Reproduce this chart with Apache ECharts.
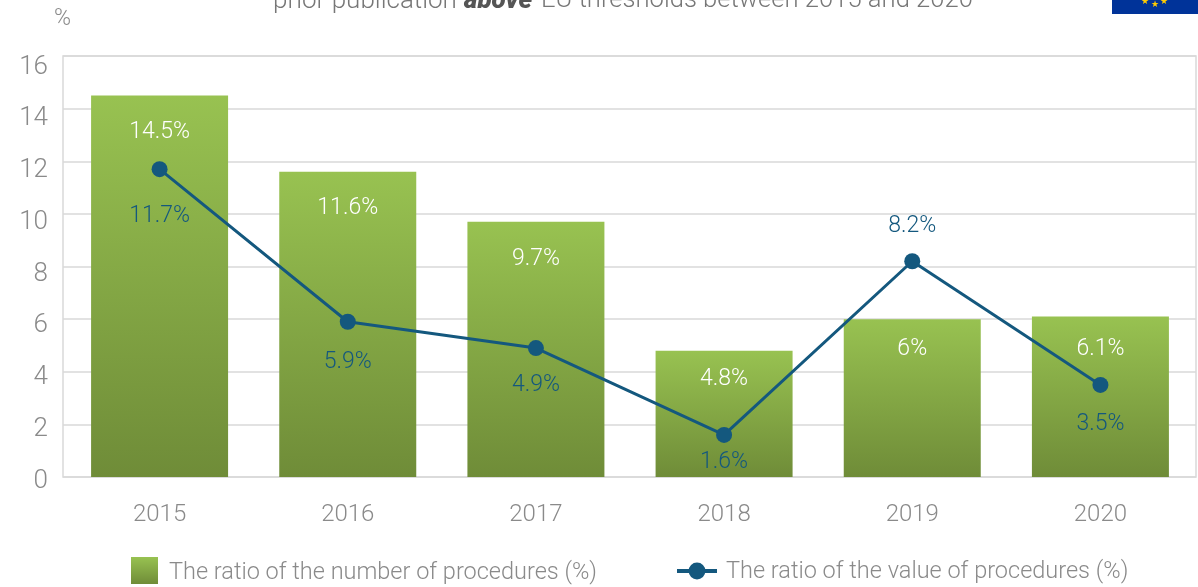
<!DOCTYPE html>
<html><head><meta charset="utf-8">
<style>html,body{margin:0;padding:0;background:#fff;overflow:hidden}#c{width:1198px;height:587px}</style>
<script src="https://cdn.jsdelivr.net/npm/echarts@6/dist/echarts.min.js"></script>
</head><body><div id="c"></div>
<script>
const categories = ['2015','2016','2017','2018','2019','2020'];
const numberRatio = [14.5,11.6,9.7,4.8,6,6.1];
const valueRatio = [11.7,5.9,4.9,1.6,8.2,3.5];
const barName = 'The ratio of the number of procedures (%)';
const lineName = 'The ratio of the value of procedures (%)';
const barLabelDistance = [25,25,26,17,19,21];
const lineLabelPlacement = ['bottom','bottom','bottom','bottom','top','bottom'];
const lineLabelDistance = [28,21,18,8,15,20];

const FONT = 'Roboto';
const GREY = '#8a8a8a';
const BLUE = '#14587e';
const grad = new echarts.graphic.LinearGradient(0,0,0,1,[{offset:0,color:'#98c251'},{offset:1,color:'#6f8c38'}]);
const chart = echarts.init(document.getElementById('c'),null,{renderer:'canvas'});
const legendText = pad => ({rich:{t:{color:GREY,fontFamily:FONT,fontSize:23.5,fontWeight:300,padding:[pad,0,0,0]}}});
chart.setOption({
  animation:false,
  backgroundColor:'#fff',
  grid:[
    {left:63,top:56,width:1133,height:421,show:true,borderColor:'#d9d9d9',borderWidth:1.5,backgroundColor:'transparent'},
    {left:65.5,top:56,width:1129,height:421},
    {left:63,top:67,width:1133,height:414}
  ],
  xAxis:[
    {gridIndex:0,type:'value',min:0,max:1,show:false},
    {gridIndex:1,type:'category',data:categories,axisLine:{show:false},axisTick:{show:false},
     axisLabel:{color:GREY,fontFamily:FONT,fontSize:24,fontWeight:300,margin:26}},
    {gridIndex:2,type:'value',min:0,max:1,show:false}
  ],
  yAxis:[
    {gridIndex:0,type:'value',min:0,max:16,interval:2,axisLine:{show:false},axisTick:{show:false},axisLabel:{show:false},
     splitLine:{show:true,lineStyle:{color:'#d9d9d9',width:1.5}}},
    {gridIndex:1,type:'value',min:0,max:16,interval:2,show:false,splitLine:{show:false}},
    {gridIndex:2,type:'value',min:0,max:16,interval:2,axisLine:{show:false},axisTick:{show:false},splitLine:{show:false},
     axisLabel:{color:GREY,fontFamily:FONT,fontSize:26,fontWeight:300,margin:15}}
  ],
  legend:[
    {data:[{name:barName,icon:'rect'}],left:126,top:552,itemWidth:27,itemHeight:27,itemGap:0,
     formatter:n=>'{t|'+n+'}',textStyle:{padding:[0,0,0,6],...legendText(6)}},
    {data:[{name:lineName}],left:670,top:555,itemWidth:40,itemHeight:21,itemGap:0,lineStyle:{width:4},
     formatter:n=>'{t|'+n+'}',textStyle:{padding:[0,0,0,4],...legendText(2)}}
  ],
  series:[
    {name:barName,type:'bar',xAxisIndex:1,yAxisIndex:1,barWidth:137,
     itemStyle:{color:grad},
     data:numberRatio.map((v,i)=>({value:v,label:{distance:barLabelDistance[i]}})),
     label:{show:true,position:'insideTop',color:'#fff',fontFamily:FONT,fontSize:23,fontWeight:300,formatter:p=>p.value+'%'}},
    {name:lineName,type:'line',xAxisIndex:1,yAxisIndex:1,symbol:'circle',symbolSize:16,
     lineStyle:{color:BLUE,width:3},itemStyle:{color:BLUE},
     data:valueRatio.map((v,i)=>({value:v,label:{position:lineLabelPlacement[i],distance:lineLabelDistance[i]}})),
     label:{show:true,color:BLUE,fontFamily:FONT,fontSize:23,fontWeight:300,formatter:p=>p.value+'%'}}
  ],
  graphic:[
    {type:'text',x:273,y:-12,style:{text:'prior publication',fill:'#777',font:'300 26px Roboto'}},
    {type:'text',x:464,y:-12,style:{text:'above',fill:'#555',font:'italic 900 26px Roboto'}},
    {type:'text',x:541,y:-12,style:{text:'EU thresholds between 2015 and 2020',fill:'#777',font:'300 25.6px Roboto'}},
    {type:'rect',shape:{x:1112,y:0,width:86,height:14},style:{fill:'#003399'}},
    {type:'text',x:1141,y:-3,style:{text:'★',fill:'#ffcc00',font:'9px "DejaVu Sans"'}},
    {type:'text',x:1151,y:0,style:{text:'★',fill:'#ffcc00',font:'9px "DejaVu Sans"'}},
    {type:'text',x:1160,y:-3,style:{text:'★',fill:'#ffcc00',font:'9px "DejaVu Sans"'}},
    {type:'text',x:54,y:8,style:{text:'%',fill:GREY,font:'300 23px Roboto'}}
  ]
});
</script></body></html>
